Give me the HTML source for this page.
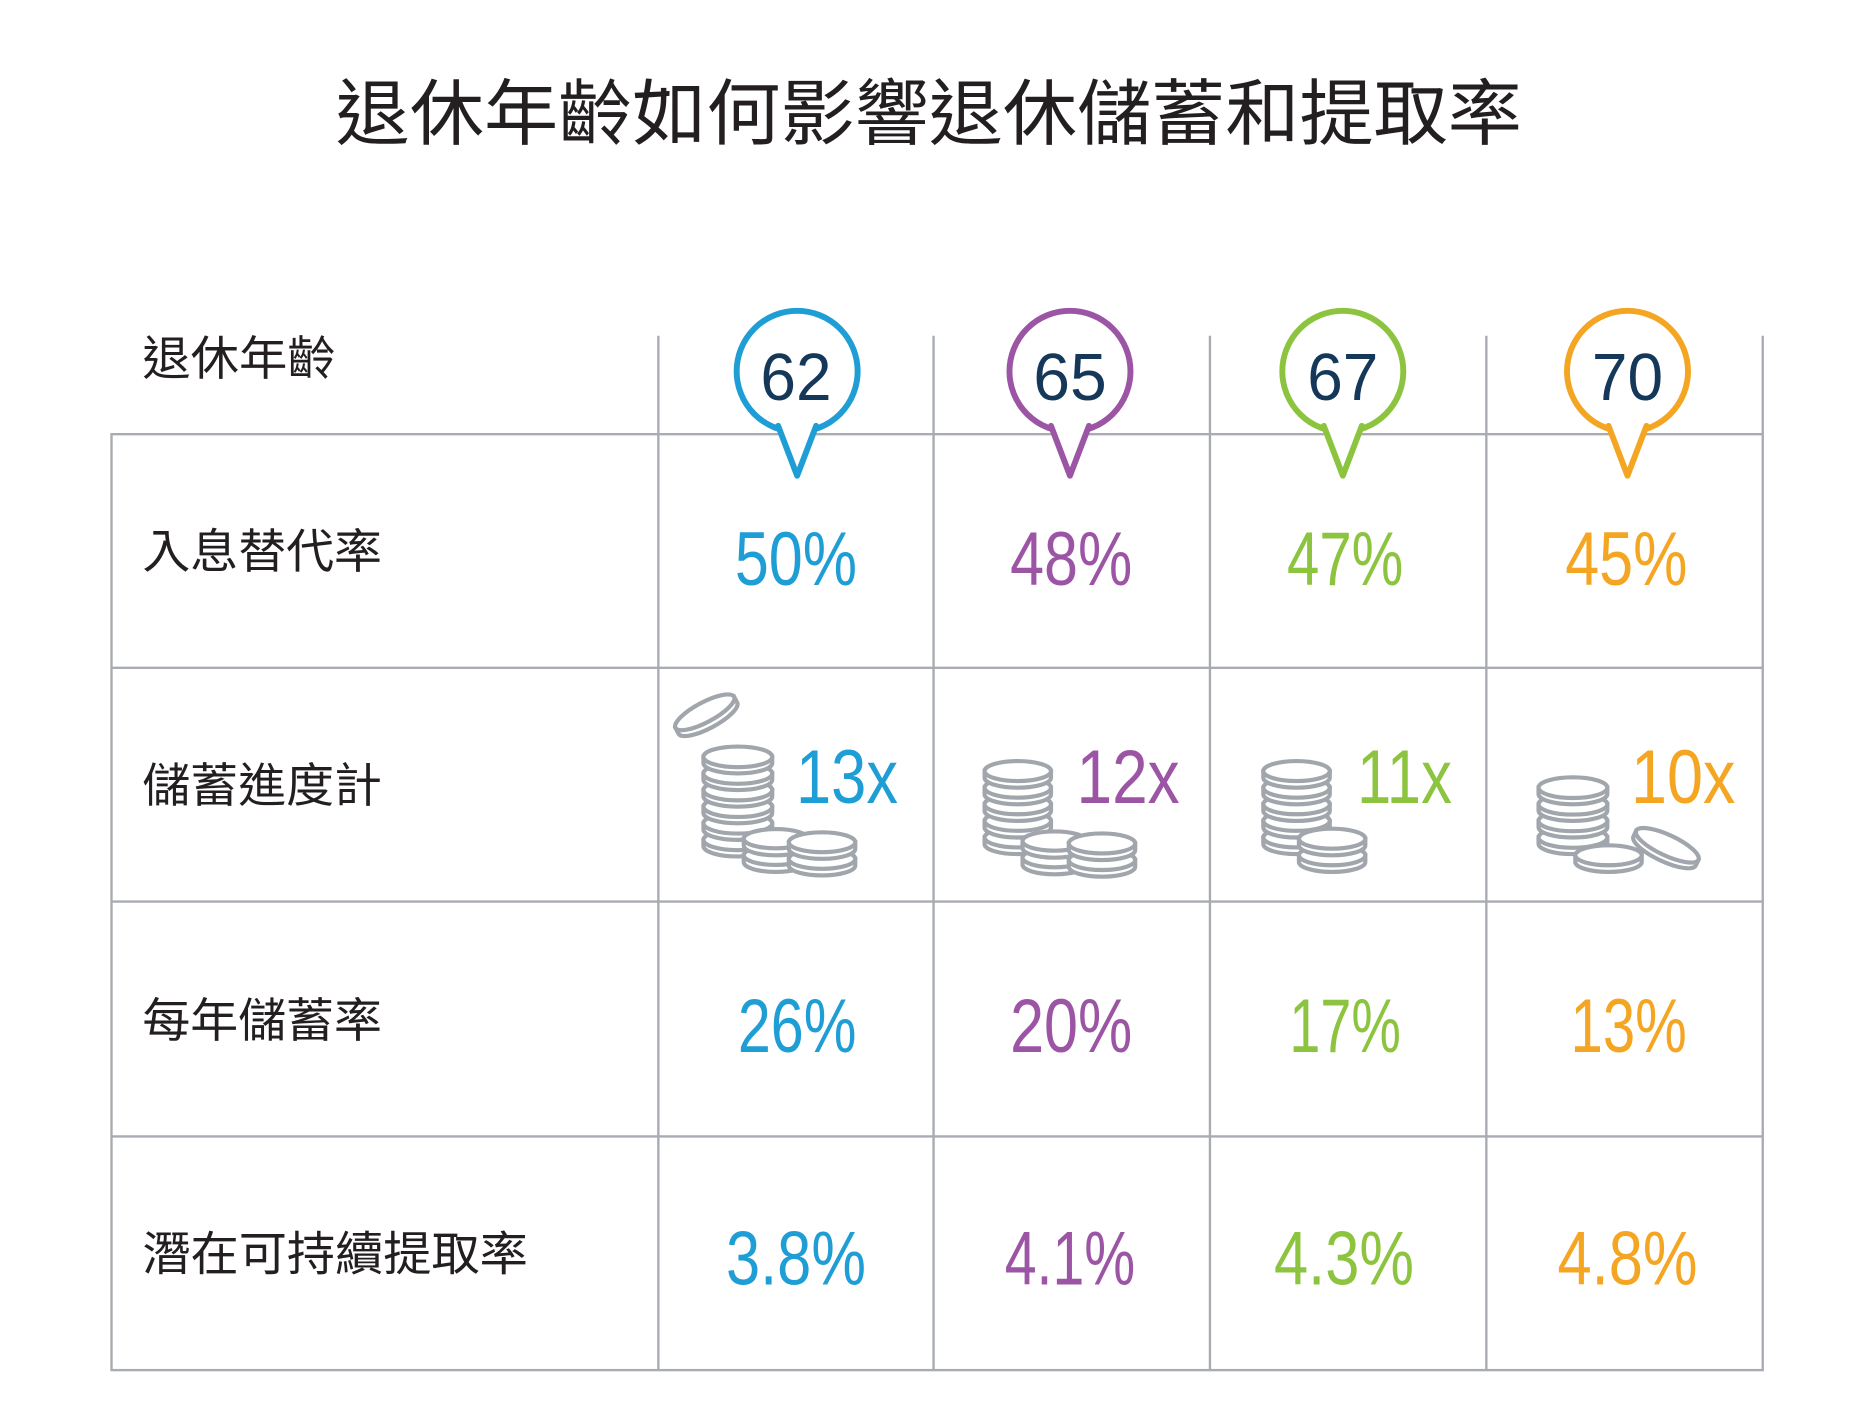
<!DOCTYPE html>
<html><head><meta charset="utf-8"><style>
html,body{margin:0;padding:0;background:#fff;}
svg{display:block;}
.cj{font-family:"Liberation Sans","Noto Sans CJK TC",sans-serif;fill:#231f20;}
.n{font-family:"Liberation Sans",sans-serif;text-anchor:middle;}
</style></head><body>
<svg width="1860" height="1417" viewBox="0 0 1568 1194.5" xmlns="http://www.w3.org/2000/svg">
<text class="cj" x="783" y="117" font-size="61" text-anchor="middle" textLength="1000" lengthAdjust="spacingAndGlyphs">退休年齡如何影響退休儲蓄和提取率</text>

<g stroke="#a8acb2" stroke-width="2" fill="none">
<rect x="94" y="366" width="1392" height="789"/>
<line x1="555" y1="283" x2="555" y2="1155"/>
<line x1="787" y1="283" x2="787" y2="1155"/>
<line x1="1020" y1="283" x2="1020" y2="1155"/>
<line x1="1253" y1="283" x2="1253" y2="1155"/>
<line x1="1486" y1="283" x2="1486" y2="366"/>
<line x1="94" y1="563" x2="1486" y2="563"/>
<line x1="94" y1="760" x2="1486" y2="760"/>
<line x1="94" y1="958" x2="1486" y2="958"/>
</g>

<g class="cj" font-size="40">
<text x="120" y="316" textLength="163" lengthAdjust="spacingAndGlyphs">退休年齡</text>
<text x="120" y="479" textLength="202" lengthAdjust="spacingAndGlyphs">入息替代率</text>
<text x="120" y="676" textLength="202" lengthAdjust="spacingAndGlyphs">儲蓄進度計</text>
<text x="120" y="874" textLength="202" lengthAdjust="spacingAndGlyphs">每年儲蓄率</text>
<text x="120" y="1071" textLength="325" lengthAdjust="spacingAndGlyphs">潛在可持續提取率</text>
</g>

<g id="pins"></g>

<g class="n" font-size="64">
<text x="671" y="493" fill="#1f9dd5" textLength="103" lengthAdjust="spacingAndGlyphs">50%</text>
<text x="903" y="493" fill="#9b55a4" textLength="103" lengthAdjust="spacingAndGlyphs">48%</text>
<text x="1134" y="493" fill="#8dc43f" textLength="98" lengthAdjust="spacingAndGlyphs">47%</text>
<text x="1371" y="493" fill="#f4a623" textLength="103" lengthAdjust="spacingAndGlyphs">45%</text>
<text x="672" y="887" fill="#1f9dd5" textLength="100" lengthAdjust="spacingAndGlyphs">26%</text>
<text x="903" y="887" fill="#9b55a4" textLength="103" lengthAdjust="spacingAndGlyphs">20%</text>
<text x="1134" y="887" fill="#8dc43f" textLength="94" lengthAdjust="spacingAndGlyphs">17%</text>
<text x="1373" y="887" fill="#f4a623" textLength="98" lengthAdjust="spacingAndGlyphs">13%</text>
<text x="671" y="1083" fill="#1f9dd5" textLength="118" lengthAdjust="spacingAndGlyphs">3.8%</text>
<text x="902" y="1083" fill="#9b55a4" textLength="110" lengthAdjust="spacingAndGlyphs">4.1%</text>
<text x="1133" y="1083" fill="#8dc43f" textLength="118" lengthAdjust="spacingAndGlyphs">4.3%</text>
<text x="1372" y="1083" fill="#f4a623" textLength="118" lengthAdjust="spacingAndGlyphs">4.8%</text>
<text x="714" y="677" fill="#1f9dd5" textLength="86" lengthAdjust="spacingAndGlyphs">13x</text>
<text x="951" y="677" fill="#9b55a4" textLength="87" lengthAdjust="spacingAndGlyphs">12x</text>
<text x="1184" y="677" fill="#8dc43f" textLength="80" lengthAdjust="spacingAndGlyphs">11x</text>
<text x="1419" y="677" fill="#f4a623" textLength="88" lengthAdjust="spacingAndGlyphs">10x</text>
</g>
<g class="n" font-size="56" fill="#15385a">
<text x="671" y="337" textLength="60" lengthAdjust="spacingAndGlyphs">62</text>
<text x="902" y="337" textLength="62" lengthAdjust="spacingAndGlyphs">65</text>
<text x="1132" y="337" textLength="60" lengthAdjust="spacingAndGlyphs">67</text>
<text x="1372" y="337" textLength="60" lengthAdjust="spacingAndGlyphs">70</text>
</g>
<g id="coins" stroke="#a1a5ac" stroke-width="3.5" fill="#fff"></g>
</svg>
<script>
var NS="http://www.w3.org/2000/svg";
function el(p,t,a){var e=document.createElementNS(NS,t);for(var k in a)e.setAttribute(k,a[k]);p.appendChild(e);return e;}
var pins=document.getElementById('pins');
[[672,'#1f9dd5'],[902,'#9b55a4'],[1132,'#8dc43f'],[1372,'#f4a623']].forEach(function(p){
 var x=p[0],c=p[1];
 el(pins,'circle',{cx:x,cy:313,r:51,fill:'#fff',stroke:c,'stroke-width':5});
 el(pins,'path',{d:'M'+(x-14)+',358 L'+x+',401 L'+(x+14)+',358 Z',fill:'#fff',stroke:'none'});
 el(pins,'path',{d:'M'+(x-16)+',359 L'+x+',401 L'+(x+16)+',359',fill:'none',stroke:c,'stroke-width':5,'stroke-linejoin':'round','stroke-linecap':'round'});
});
var g=document.getElementById('coins');
function stack(cx,bottom,n,rx,tr){
 var ry=rx*0.3,h=14,par=g;
 if(tr){par=el(g,'g',{transform:tr});}
 for(var i=0;i<n;i++){
  var yb=bottom-i*h;
  var d='M'+(cx-rx)+','+(yb-h)+' L'+(cx-rx)+','+(yb-ry)+' A'+rx+','+ry+' 0 0 0 '+(cx+rx)+','+(yb-ry)+' L'+(cx+rx)+','+(yb-h)+' Z';
  el(par,'path',{d:d});
  el(par,'ellipse',{cx:cx,cy:yb-h,rx:rx,ry:ry});
 }
}
stack(622,722,6,29);
stack(654,735,2,27);
stack(693,738,2,28);
stack(596,614,1,28,'rotate(-28 596 604)');
stack(858,720,5,28);
stack(889,737,2,27);
stack(929,739,2,28);
stack(1093,720,5,28);
stack(1123,735,2,28);
stack(1326,720,4,29);
stack(1356,735,1,28);
stack(1403,726,1,29,'rotate(25 1403 718)');
</script>
</body></html>
